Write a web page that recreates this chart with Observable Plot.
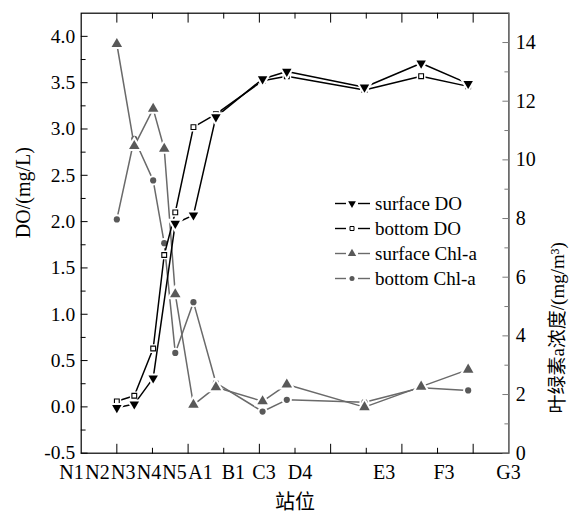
<!DOCTYPE html>
<html><head><meta charset="utf-8">
<script src="https://cdn.jsdelivr.net/npm/d3@7"></script>
<script src="https://cdn.jsdelivr.net/npm/@observablehq/plot@0.6"></script>
<style>
body{margin:0;background:#fff}
#chart{width:570px;height:519px}
#chart svg text{font-family:'Liberation Serif','Noto Sans CJK SC',serif}
</style>
</head><body><div id="chart"></div>
<script>
// ---- data ----
const stations = ["N1","N2","N3","N4","N5","A1","B1","C3","D4","E3","F3","G3"];
const distance = [1.0, 1.49, 2.02, 2.33, 2.64, 3.15, 3.78, 5.09, 5.77, 7.95, 9.54, 10.86];
const surfaceDO = [-0.01, 0.03, 0.31, null, 1.98, 2.07, 3.13, 3.54, 3.62, 3.45, 3.71, 3.49];
const bottomDO = [0.06, 0.12, 0.63, 1.64, 2.10, 3.02, 3.16, 3.52, 3.57, 3.42, 3.57, 3.46];
const surfaceChl = [13.95, 10.47, 11.74, 10.38, 5.42, 1.65, 2.25, 1.77, 2.34, 1.57, 2.27, 2.85];
const bottomChl = [7.97, 10.72, 9.30, 7.16, 3.42, 5.15, 2.40, 1.42, 1.82, 1.74, 2.23, 2.14];
const stationLabelPos = [-0.27, 0.46, 1.18, 1.90, 2.62, 3.35, 4.27, 5.13, 6.14, 8.5, 10.18, 11.99];
const xMajor = [1, 3, 5, 7, 9, 11];
const xMinor = [2, 4, 6, 8, 10];
const doTicks = [-0.5, 0, 0.5, 1, 1.5, 2, 2.5, 3, 3.5, 4];
const doMinor = [-0.25, 0.25, 0.75, 1.25, 1.75, 2.25, 2.75, 3.25, 3.75];
const chlTicks = [0, 2, 4, 6, 8, 10, 12, 14];
const chlMinor = [1, 3, 5, 7, 9, 11, 13];
const legendNames = ["surface DO", "bottom DO", "surface Chl-a", "bottom Chl-a"];

// ---- scales ----
const doDomain = [-0.5, 4.25];
const chlDomain = [0, 15];
const xDomain = [0, 12];
const toLeft = v => doDomain[0] + (v - chlDomain[0]) * (doDomain[1] - doDomain[0]) / (chlDomain[1] - chlDomain[0]);
const fromLeft = v => chlDomain[0] + (v - doDomain[0]) * (chlDomain[1] - chlDomain[0]) / (doDomain[1] - doDomain[0]);

const rows = (vals, f = v => v) => stations.map((s, i) => ({s, x: distance[i], v: vals[i] == null ? null : f(vals[i])})).filter(d => d.v != null);
const sDO = rows(surfaceDO), bDO = rows(bottomDO), sChl = rows(surfaceChl, toLeft), bChl = rows(bottomChl, toLeft);

const SERIF = "Liberation Serif";
const GRAY_LINE = "#6a6a6a", GRAY_MARK = "#595959";
const tickShape = {draw(ctx, l) { ctx.moveTo(0, 0); ctx.lineTo(0, -l); }};
const tk = (data, opts) => Plot.vector(data, {anchor: "start", shape: tickShape, stroke: "black", strokeWidth: 1, ...opts});

const series = (data, lineColor, markOpts) => [
  Plot.line(data, {x: "x", y: "v", stroke: lineColor, strokeWidth: 1.5}),
  Plot.dot(data, {x: "x", y: "v", ...markOpts, fill: "white", stroke: "white", strokeWidth: 4}),
  Plot.dot(data, {x: "x", y: "v", ...markOpts})
];

const plot = Plot.plot({
  width: 570, height: 519,
  marginLeft: 80.7, marginRight: 61.7, marginTop: 12.7, marginBottom: 66.3,
  x: {domain: xDomain, axis: null},
  y: {domain: doDomain, axis: null},
  style: {fontFamily: SERIF, fontSize: "20px", background: "white", color: "black"},
  marks: [
    ...series(bChl, GRAY_LINE, {symbol: "circle", r: 3.1, fill: GRAY_MARK, stroke: "none"}),
    ...series(sChl, GRAY_LINE, {symbol: "triangle", r: 3.9, fill: GRAY_MARK, stroke: "none"}),
    ...series(bDO, "black", {symbol: "square", r: 2.7, fill: "white", stroke: "black", strokeWidth: 1.1}),
    ...series(sDO, "black", {symbol: "triangle", r: 3.5, rotate: 180, fill: "black", stroke: "none"}),
    Plot.frame({stroke: "black", strokeWidth: 1.2}),
    Plot.ruleX([xDomain[1]], {stroke: "#7a7a7a", strokeWidth: 1.2}),
    tk(xMajor, {x: d => d, frameAnchor: "bottom", length: 9, rotate: 0}),
    tk(xMinor, {x: d => d, frameAnchor: "bottom", length: 5, rotate: 0}),
    tk(xMajor, {x: d => d, frameAnchor: "top", length: 9, rotate: 180}),
    tk(xMinor, {x: d => d, frameAnchor: "top", length: 5, rotate: 180}),
    tk(doTicks, {y: d => d, frameAnchor: "left", length: 6, rotate: 90}),
    tk(doMinor, {y: d => d, frameAnchor: "left", length: 4, rotate: 90}),
    tk(chlTicks.map(toLeft), {y: d => d, frameAnchor: "right", length: 6, rotate: -90, stroke: "#7a7a7a"}),
    tk(chlMinor.map(toLeft), {y: d => d, frameAnchor: "right", length: 4, rotate: -90, stroke: "#7a7a7a"}),
    Plot.axisY({ticks: doTicks, tickSize: 0, tickPadding: 6, tickFormat: d => d.toFixed(1), fontSize: 19.5, fontFamily: SERIF, label: null}),
    Plot.axisY({anchor: "right", ticks: chlTicks.map(toLeft), tickSize: 0, tickPadding: 7, tickFormat: d => String(Math.round(fromLeft(d))), fontSize: 20, fontFamily: SERIF, label: null}),
    Plot.text(stations, {x: (d, i) => stationLabelPos[i], text: d => d, frameAnchor: "bottom", dy: 26, fontSize: 20, fontFamily: SERIF}),
    Plot.text(["站位"], {frameAnchor: "bottom", dy: 55.5, fontSize: 20, fontFamily: "Noto Sans CJK SC"}),
    Plot.text(["DO/(mg/L)"], {frameAnchor: "left", dx: -57.5, dy: 5, rotate: -90, fontSize: 20, fontFamily: SERIF}),
    Plot.text(["叶绿素a浓度/(mg/m³)"], {frameAnchor: "right", dx: 49, dy: 9, rotate: -90, fontSize: 19, fontFamily: SERIF})
  ]
});
document.getElementById("chart").appendChild(plot);

// ---- legend ----
const svg = d3.select(plot);
const lg = svg.append("g").attr("class", "legend");
const legendStyle = [
  {color: "black", sym: d3.symbolTriangle, size: 26, rot: 180, fill: "black", stroke: "none"},
  {color: "black", sym: d3.symbolSquare, size: 16, rot: 0, fill: "white", stroke: "black"},
  {color: GRAY_LINE, sym: d3.symbolTriangle, size: 30, rot: 0, fill: GRAY_MARK, stroke: "none"},
  {color: GRAY_LINE, sym: d3.symbolCircle, size: 20, rot: 0, fill: GRAY_MARK, stroke: "none"}
];
legendNames.forEach((name, i) => {
  const st = legendStyle[i];
  const y = 203.5 + i * 25;
  const g = lg.append("g").attr("transform", `translate(0,${y})`);
  g.append("line").attr("x1", 335).attr("x2", 346).attr("y1", 0).attr("y2", 0).attr("stroke", st.color).attr("stroke-width", 1.4);
  g.append("line").attr("x1", 358).attr("x2", 370).attr("y1", 0).attr("y2", 0).attr("stroke", st.color).attr("stroke-width", 1.4);
  g.append("path").attr("d", d3.symbol(st.sym, st.size)()).attr("transform", `translate(352,0) rotate(${st.rot})`)
    .attr("fill", st.fill).attr("stroke", st.stroke).attr("stroke-width", 1);
  g.append("text").attr("x", 375).attr("y", 0).attr("dy", "0.35em").attr("text-anchor", "start")
    .attr("font-size", 19).attr("font-family", SERIF).attr("fill", "black").text(name);
});
</script>
</body></html>
